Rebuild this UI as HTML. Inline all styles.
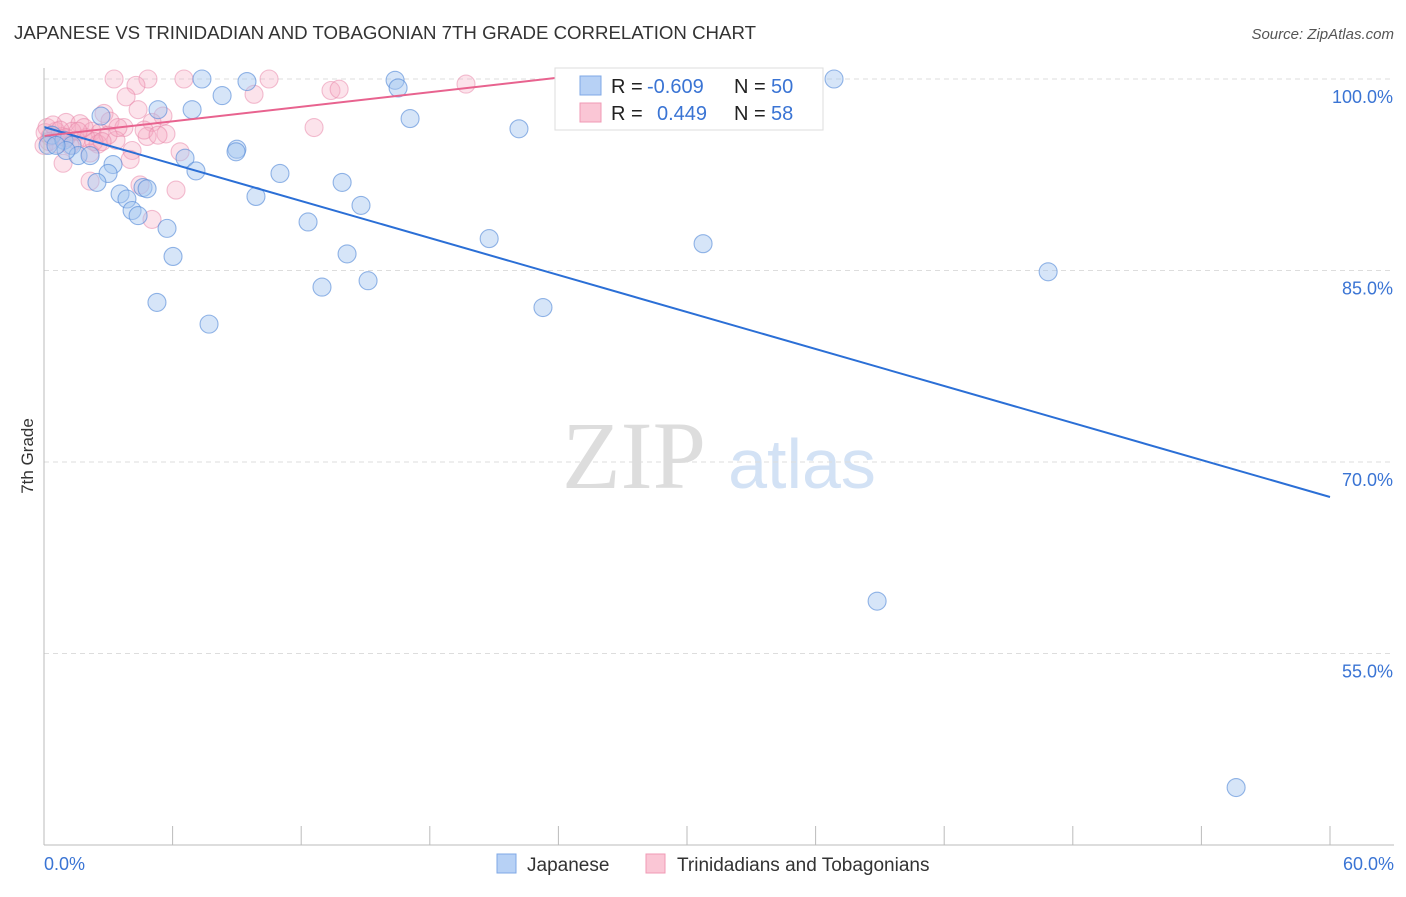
<!DOCTYPE html>
<html><head><meta charset="utf-8"><style>
body{margin:0;background:#fff;font-family:"Liberation Sans",sans-serif}
</style></head><body>
<svg id="c" width="1406" height="892" xmlns="http://www.w3.org/2000/svg" font-family="Liberation Sans, sans-serif">
<text x="14" y="39" font-size="18" fill="#333" textLength="742" lengthAdjust="spacingAndGlyphs">JAPANESE VS TRINIDADIAN AND TOBAGONIAN 7TH GRADE CORRELATION CHART</text>
<text x="1394" y="39" font-size="15" fill="#555" text-anchor="end" font-style="italic">Source: ZipAtlas.com</text>
<text x="634" y="488" font-size="96" fill="#ddd" text-anchor="middle" font-family="Liberation Serif, serif">ZIP</text>
<text x="802" y="488" font-size="70" fill="#d3e2f5" text-anchor="middle">atlas</text>
<g id="grid"></g><g id="pts"></g><g id="lines"></g>
<line x1="44" y1="68" x2="44" y2="845" stroke="#bbb"/>
<line x1="44" y1="845" x2="1394" y2="845" stroke="#bbb"/>
<text transform="translate(33,456) rotate(-90)" font-size="17" fill="#333" text-anchor="middle">7th Grade</text>
<text x="44" y="870" font-size="18" fill="#3a74d4">0.0%</text>
<text x="1394" y="870" font-size="18" fill="#3a74d4" text-anchor="end">60.0%</text>
<g>
<rect x="555" y="68" width="268" height="62" fill="#fff" stroke="#ddd"/>
<rect x="580" y="76" width="21" height="19" fill="#b7d1f5" stroke="#7fa8e6"/>
<rect x="580" y="103" width="21" height="19" fill="#fac6d5" stroke="#f09ab5"/>
<text x="611" y="93" font-size="20" fill="#222">R = <tspan fill="#3a74d4" x="647">-0.609</tspan></text>
<text x="734" y="93" font-size="20" fill="#222">N = <tspan fill="#3a74d4" x="771">50</tspan></text>
<text x="611" y="120" font-size="20" fill="#222">R = <tspan fill="#3a74d4" x="657">0.449</tspan></text>
<text x="734" y="120" font-size="20" fill="#222">N = <tspan fill="#3a74d4" x="771">58</tspan></text>
</g>
<g>
<rect x="497" y="854" width="19" height="19" fill="#b7d1f5" stroke="#7fa8e6"/>
<text x="527" y="871" font-size="19" fill="#333">Japanese</text>
<rect x="646" y="854" width="19" height="19" fill="#fac6d5" stroke="#f09ab5"/>
<text x="677" y="871" font-size="19" fill="#333">Trinidadians and Tobagonians</text>
</g>
</svg>
<script>
const yTicks=[100,85,70,55];
const yTickLabels=["100.0%","85.0%","70.0%","55.0%"];
const xTicks=[0,6,12,18,24,30,36,42,48,54,60];
const japX=[7.37,9.47,16.38,16.52,36.86,8.31,6.91,5.32,2.66,17.08,22.16,0.37,0.19,0.93,1.31,1.59,2.15,1.03,9.0,8.96,6.58,3.22,7.09,2.99,11.01,2.47,13.91,4.62,4.81,3.55,9.89,3.87,14.79,4.11,4.39,12.32,5.74,20.77,30.75,6.02,14.14,46.85,15.12,12.97,5.27,23.28,7.70,38.87,55.62,0.56];
const japY=[100,99.8,99.9,99.3,100,98.7,97.6,97.6,97.1,96.9,96.1,95.6,94.8,95.2,94.8,94.0,94.0,94.4,94.5,94.3,93.8,93.3,92.8,92.6,92.6,91.9,91.9,91.5,91.4,91.0,90.8,90.6,90.1,89.7,89.3,88.8,88.3,87.5,87.1,86.1,86.3,84.9,84.2,83.7,82.5,82.1,80.8,59.1,44.5,94.8];
const triX=[3.27,4.85,6.53,10.5,19.69,28.4,4.29,9.8,13.39,13.77,3.83,4.39,2.8,5.55,3.08,1.03,1.68,12.6,5.04,3.73,0.14,0.56,2.24,2.61,5.69,4.81,0.28,0.84,1.96,3.36,1.49,2.52,0.65,1.21,4.11,6.35,2.15,4.02,0.89,2.15,4.48,6.16,5.04,0.05,0.42,1.87,2.99,0,1.31,2.33,3.45,0.75,2.71,1.03,0.23,4.67,5.32,1.59];
const triY=[100,100,100,100,99.6,100,99.5,98.8,99.1,99.2,98.6,97.6,97.3,97.1,96.7,96.6,96.5,96.2,96.6,96.2,96.2,95.9,95.9,95.8,95.7,95.5,95.5,95.5,95.4,95.2,95.2,94.9,94.9,94.8,94.4,94.3,94.2,93.7,93.4,92.0,91.7,91.3,89.0,95.8,96.4,96.2,95.6,94.8,95.9,95.1,96.2,96.0,95.1,95.4,95.1,96.0,95.6,95.9];
const japTrend=[[0,96.24],[60,67.26]];
const triTrend=[[0,95.54],[23.85,100.08]];
const NS="http://www.w3.org/2000/svg";
const X=v=>44+v/60*1286, Y=v=>79+(100-v)/15*191.5;
function mk(t,a,p){const e=document.createElementNS(NS,t);for(const k in a)e.setAttribute(k,a[k]);p.appendChild(e);return e;}
const g=document.getElementById('grid');
yTicks.forEach((t,i)=>{
 const l=mk('line',{x1:44,x2:1394,y1:Y(t),y2:Y(t),stroke:'#ddd','stroke-dasharray':'5,4'},g);
 
 
 const tx=mk('text',{x:1393,y:Y(t)+24,'font-size':18,fill:'#3a74d4','text-anchor':'end'},g);
 tx.textContent=yTickLabels[i];
 
 
});
xTicks.forEach(t=>{
 const l=mk('line',{x1:X(t),x2:X(t),y1:826,y2:845,stroke:'#bbb'},g);
 
 
});
const p=document.getElementById('pts');
triX.forEach((x,i)=>{
 const c=mk('circle',{cx:X(x),cy:Y(triY[i]),r:9,fill:'rgba(247,170,195,0.33)',stroke:'rgba(232,130,165,0.5)','stroke-width':1.1},p);
 
 
});
japX.forEach((x,i)=>{
 const c=mk('circle',{cx:X(x),cy:Y(japY[i]),r:9,fill:'rgba(165,198,240,0.45)',stroke:'rgba(80,135,215,0.6)','stroke-width':1.1},p);
 
 
});
const L=document.getElementById('lines');
const a=mk('line',{x1:X(japTrend[0][0]),y1:Y(japTrend[0][1]),x2:X(japTrend[1][0]),y2:Y(japTrend[1][1]),stroke:'#2b6fd6','stroke-width':2},L);


const b=mk('line',{x1:X(triTrend[0][0]),y1:Y(triTrend[0][1]),x2:X(triTrend[1][0]),y2:Y(triTrend[1][1]),stroke:'#e8638f','stroke-width':2},L);


</script>
</body></html>
